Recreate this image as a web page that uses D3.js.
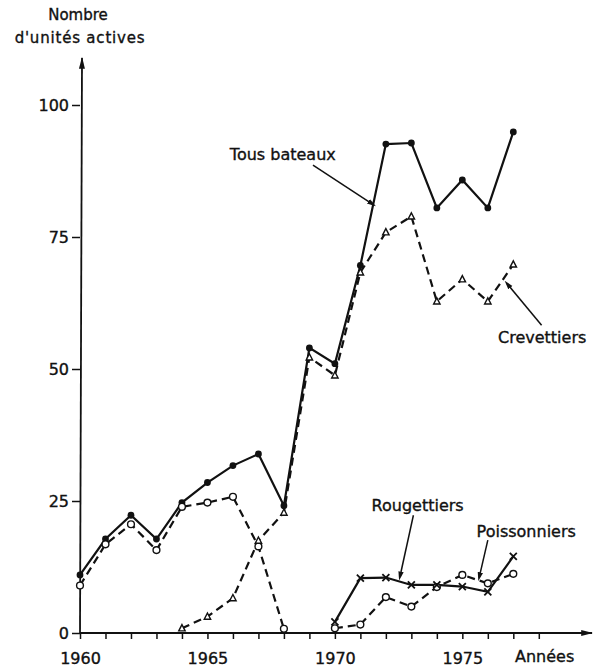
<!DOCTYPE html>
<html>
<head>
<meta charset="utf-8">
<script src="https://cdn.jsdelivr.net/npm/d3@7"></script>
<style>
  body { margin: 0; background: #fff; }
  text { font-family: "DejaVu Sans", sans-serif; fill: #111; stroke: #111; stroke-width: 0.35px; }
</style>
</head>
<body>
<svg width="600" height="668"></svg>
<script>
// data
var years = [1960, 1961, 1962, 1963, 1964, 1965, 1966, 1967, 1968, 1969, 1970, 1971, 1972, 1973, 1974, 1975, 1976, 1977];
var tousBateaux  = [11, 17.8, 22.3, 17.8, 24.7, 28.5, 31.7, 33.9, 24.1, 54, 51, 69.6, 92.6, 92.8, 80.5, 85.8, 80.5, 94.9];
var crevettiers  = [null, null, null, null, 0.9, 3.1, 6.6, 17.5, 22.8, 52.2, 48.8, 68.3, 75.9, 78.9, 62.8, 67, 62.8, 69.8];
var poissonniers = [9.0, 16.8, 20.6, 15.7, 23.9, 24.7, 25.8, 16.4, 0.8, null, 0.9, 1.6, 6.8, 5.0, 8.7, 11.0, 9.4, 11.2];
var rougettiers  = [null, null, null, null, null, null, null, null, null, null, 2.1, 10.4, 10.5, 9.1, 9.1, 8.8, 7.8, 14.5];

var yTicks = [0, 25, 50, 75, 100];
var xTicks = [1960, 1961, 1962, 1963, 1964, 1965, 1966, 1967, 1968, 1969, 1970, 1971, 1972, 1973, 1974, 1975, 1976, 1977, 1978];
var xLabels = [1960, 1965, 1970, 1975];

// annotations in data space: text anchor, arrow start, arrow end
var notes = [
  {text: "Tous bateaux", tx: 1965.88, ty: 89.5, x1: 1969.14, y1: 88.6, x2: 1971.49, y2: 81.2},
  {text: "Crevettiers",  tx: 1976.40, ty: 55.0, x1: 1978.11, y1: 58.3, x2: 1976.75, y2: 66.2},
  {text: "Rougettiers",  tx: 1971.44, ty: 23.2, x1: 1973.08, y1: 22.3, x2: 1972.55, y2: 10.6},
  {text: "Poissonniers", tx: 1975.56, ty: 18.1, x1: 1976.00, y1: 17.6, x2: 1975.66, y2: 10.5}
];

var svg = d3.select("svg");

var x = d3.scaleLinear().domain([1960, 1978]).range([80, 538.8]),
    y = d3.scaleLinear().domain([0, 100]).range([633, 105]);

var defs = svg.append("defs");
defs.append("marker")
    .attr("id", "axisArrow")
    .attr("viewBox", "0 0 10 10")
    .attr("refX", 9).attr("refY", 5)
    .attr("markerWidth", 12).attr("markerHeight", 12)
    .attr("markerUnits", "userSpaceOnUse")
    .attr("orient", "auto")
  .append("path")
    .attr("d", "M0,2.5L10,5L0,7.5Z")
    .attr("fill", "#111");
defs.append("marker")
    .attr("id", "noteArrow")
    .attr("viewBox", "0 0 10 10")
    .attr("refX", 6).attr("refY", 5)
    .attr("markerWidth", 9).attr("markerHeight", 9)
    .attr("markerUnits", "userSpaceOnUse")
    .attr("orient", "auto")
  .append("path")
    .attr("d", "M0,2L10,5L0,8Z")
    .attr("fill", "#111");

// y axis
var yAxis = svg.append("g")
    .attr("transform", "translate(" + x(1960) + ",0)")
    .call(d3.axisLeft(y).tickValues(yTicks).tickSize(8).tickPadding(3));
yAxis.select(".domain").remove();
yAxis.selectAll(".tick line").attr("stroke", "#111").attr("stroke-width", 1.5);
yAxis.selectAll(".tick text").attr("font-size", 16).attr("fill", "#111").style("font-family", "DejaVu Sans, sans-serif");
svg.append("line")
    .attr("x1", x(1960)).attr("x2", x(1960) + 2)
    .attr("y1", y(0)).attr("y2", 58)
    .attr("stroke", "#111").attr("stroke-width", 1.8)
    .attr("marker-end", "url(#axisArrow)");

// x axis
var xAxis = svg.append("g")
    .attr("transform", "translate(0," + y(0) + ")")
    .call(d3.axisBottom(x).tickValues(xTicks).tickSize(6).tickPadding(14)
      .tickFormat(function(d) { return xLabels.indexOf(d) >= 0 ? d : ""; }));
xAxis.select(".domain").remove();
xAxis.selectAll(".tick line").attr("stroke", "#111").attr("stroke-width", 1.5);
xAxis.selectAll(".tick text").attr("font-size", 16).attr("fill", "#111").style("font-family", "DejaVu Sans, sans-serif");
svg.append("line")
    .attr("x1", x(1960)).attr("x2", 592)
    .attr("y1", y(0)).attr("y2", y(0))
    .attr("stroke", "#111").attr("stroke-width", 1.8)
    .attr("marker-end", "url(#axisArrow)");

svg.append("text")
    .attr("x", 515).attr("y", 662)
    .attr("font-size", 16)
    .text("Années");

svg.append("text")
    .attr("x", 78).attr("y", 20)
    .attr("text-anchor", "middle")
    .attr("font-size", 15)
    .text("Nombre");
svg.append("text")
    .attr("x", 80).attr("y", 43)
    .attr("text-anchor", "middle")
    .attr("font-size", 15)
    .attr("letter-spacing", 0.8)
    .text("d'unités actives");

// series
function pts(values) {
  return years.map(function(yr, i) { return {year: yr, value: values[i]}; });
}

var line = d3.line()
    .defined(function(d) { return d.value != null; })
    .x(function(d) { return x(d.year); })
    .y(function(d) { return y(d.value); });

var series = [
  {id: "tous", values: pts(tousBateaux), dash: null},
  {id: "crev", values: pts(crevettiers), dash: "8,5"},
  {id: "pois", values: pts(poissonniers), dash: "8,5"},
  {id: "roug", values: pts(rougettiers), dash: null}
];

svg.selectAll(".serie")
  .data(series)
  .enter().append("path")
    .attr("class", "serie")
    .attr("d", function(d) { return line(d.values); })
    .attr("fill", "none")
    .attr("stroke", "#111")
    .attr("stroke-width", 2.2)
    .attr("stroke-dasharray", function(d) { return d.dash; });

function valid(values) {
  return pts(values).filter(function(d) { return d.value != null; });
}

// tous bateaux: filled dots
svg.selectAll(".dotTous")
  .data(valid(tousBateaux))
  .enter().append("circle")
    .attr("cx", function(d) { return x(d.year); })
    .attr("cy", function(d) { return y(d.value); })
    .attr("r", 3.4)
    .attr("fill", "#111");

// poissonniers: open circles
svg.selectAll(".dotPois")
  .data(valid(poissonniers))
  .enter().append("circle")
    .attr("cx", function(d) { return x(d.year); })
    .attr("cy", function(d) { return y(d.value); })
    .attr("r", 3.4)
    .attr("fill", "#fff")
    .attr("stroke", "#111")
    .attr("stroke-width", 1.4);

// crevettiers: open triangles
svg.selectAll(".triCrev")
  .data(valid(crevettiers))
  .enter().append("path")
    .attr("transform", function(d) { return "translate(" + x(d.year) + "," + y(d.value) + ")"; })
    .attr("d", "M0,-3.6L3.2,2.6L-3.2,2.6Z")
    .attr("fill", "#fff")
    .attr("stroke", "#111")
    .attr("stroke-width", 1.4);

// rougettiers: crosses
svg.selectAll(".crossRoug")
  .data(valid(rougettiers))
  .enter().append("path")
    .attr("transform", function(d) { return "translate(" + x(d.year) + "," + y(d.value) + ")"; })
    .attr("d", "M-3.5,-3.5L3.5,3.5M3.5,-3.5L-3.5,3.5")
    .attr("stroke", "#111")
    .attr("stroke-width", 1.8);

// labels with arrows
var note = svg.selectAll(".note")
  .data(notes)
  .enter().append("g")
    .attr("class", "note");

note.append("text")
    .attr("x", function(d) { return x(d.tx); })
    .attr("y", function(d) { return y(d.ty); })
    .attr("font-size", 16)
    .text(function(d) { return d.text; });

note.append("line")
    .attr("x1", function(d) { return x(d.x1); })
    .attr("y1", function(d) { return y(d.y1); })
    .attr("x2", function(d) { return x(d.x2); })
    .attr("y2", function(d) { return y(d.y2); })
    .attr("stroke", "#111")
    .attr("stroke-width", 1.5)
    .attr("marker-end", "url(#noteArrow)");
</script>
</body>
</html>
